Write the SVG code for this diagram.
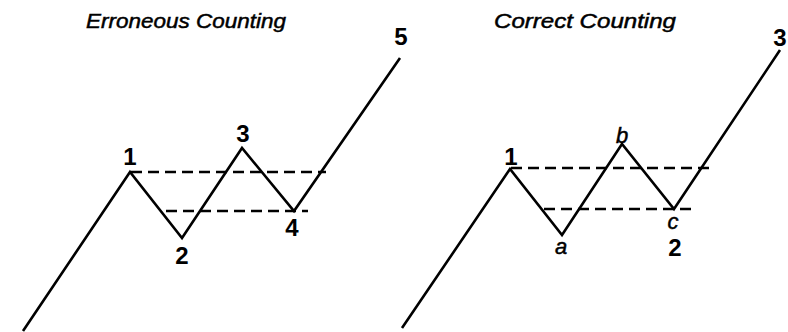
<svg xmlns="http://www.w3.org/2000/svg" width="788" height="332" viewBox="0 0 788 332">
<style>
.wave{fill:none;stroke:#000;stroke-width:2.6;stroke-linejoin:miter;stroke-linecap:butt}
.dash{fill:none;stroke:#000;stroke-width:2.4;stroke-dasharray:11 6}
.title{font-family:"Liberation Sans",Arial,sans-serif;font-style:italic;font-size:21px;fill:#000;stroke:#000;stroke-width:0.5}
.num{font-family:"Liberation Sans",Arial,sans-serif;font-weight:bold;font-size:24px;fill:#000;text-anchor:middle}
.let{font-family:"Liberation Sans",Arial,sans-serif;font-style:italic;font-size:22px;fill:#000;stroke:#000;stroke-width:0.5;text-anchor:middle}
</style>
<rect width="788" height="332" fill="#fff"/>
<g id="left">
<text class="title" x="86" y="28" textLength="200" lengthAdjust="spacingAndGlyphs">Erroneous Counting</text>
<g id="connectors-left">
<polyline class="wave" points="23,331 130,172 182,238 242,148 294,211 400,58"/>
<line class="dash" x1="131" y1="172" x2="326" y2="172"/>
<line class="dash" x1="166" y1="211" x2="308" y2="211"/>
</g>
<g id="l1"><text class="num" x="130" y="165">1</text></g>
<g id="l2"><text class="num" x="182" y="264">2</text></g>
<g id="l3"><text class="num" x="243" y="142">3</text></g>
<g id="l4"><text class="num" x="292" y="236">4</text></g>
<g id="l5"><text class="num" x="401" y="45">5</text></g>
</g>
<g id="right">
<text class="title" x="494" y="28" textLength="182" lengthAdjust="spacingAndGlyphs">Correct Counting</text>
<g id="connectors-right">
<polyline class="wave" points="402,328 510,169 562,235 622,144 674,209 780,50"/>
<line class="dash" x1="511" y1="168" x2="711" y2="168"/>
<line class="dash" x1="544" y1="209" x2="693" y2="209"/>
</g>
<g id="r1"><text class="num" x="511" y="165">1</text></g>
<g id="ra"><text class="let" x="561" y="254">a</text></g>
<g id="rb"><text class="let" x="622" y="143">b</text></g>
<g id="rc"><text class="let" x="673" y="229">c</text></g>
<g id="r2"><text class="num" x="675" y="256">2</text></g>
<g id="r3"><text class="num" x="780" y="46">3</text></g>
</g>
</svg>
